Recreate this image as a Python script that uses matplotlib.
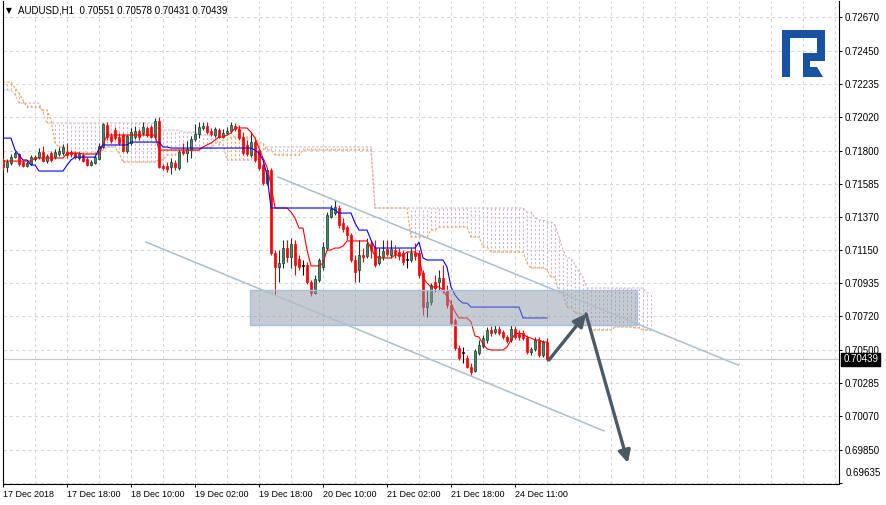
import numpy as np
import matplotlib
matplotlib.use("Agg")
import matplotlib.pyplot as plt
import matplotlib.transforms as mtransforms
from matplotlib.patches import Rectangle, Polygon
from matplotlib.ticker import FixedLocator, MultipleLocator

plt.rcParams['font.family'] = ['Liberation Sans', 'DejaVu Sans']

# AUDUSD H1 candles, bar 0 = 17 Dec 2018 02:00
opens = [
    0.71740, 0.71694, 0.71720, 0.71759, 0.71779, 0.71727, 0.71701, 0.71714, 0.71746, 0.71759,
    0.71792, 0.71733, 0.71785, 0.71759, 0.71779, 0.71785, 0.71792, 0.71792, 0.71785, 0.71753,
    0.71772, 0.71746, 0.71707, 0.71720, 0.71746, 0.71825, 0.71968, 0.71896, 0.71935, 0.71890,
    0.71903, 0.71799, 0.71851, 0.71890, 0.71929, 0.71916, 0.71949, 0.71955, 0.71890, 0.71995,
    0.71701, 0.71701, 0.71694, 0.71720, 0.71688, 0.71799, 0.71785, 0.71805, 0.71877, 0.71909,
    0.71949, 0.71962, 0.71929, 0.71903, 0.71935, 0.71890, 0.71916, 0.71929, 0.71962, 0.71942,
    0.71890, 0.71838, 0.71772, 0.71857, 0.71805, 0.71707, 0.71590, 0.71675, 0.71133, 0.71042,
    0.71068, 0.71166, 0.71107, 0.71192, 0.71094, 0.71049, 0.71055, 0.70944, 0.70873, 0.70957,
    0.71042, 0.71166, 0.71368, 0.71394, 0.71427, 0.71329, 0.71303, 0.71251, 0.71088, 0.71023,
    0.71120, 0.71114, 0.71192, 0.71166, 0.71068, 0.71107, 0.71159, 0.71120, 0.71153, 0.71140,
    0.71133, 0.71088, 0.71088, 0.71133, 0.71133, 0.71003, 0.70781, 0.70814, 0.70944, 0.70944,
    0.70970, 0.70892, 0.70794, 0.70697, 0.70514, 0.70481, 0.70449, 0.70390, 0.70364, 0.70481,
    0.70527, 0.70566, 0.70631, 0.70618, 0.70638, 0.70618, 0.70586, 0.70566, 0.70638, 0.70612,
    0.70612, 0.70579, 0.70488, 0.70508, 0.70566, 0.70468, 0.70551,
]
highs = [
    0.71753, 0.71746, 0.71779, 0.71799, 0.71785, 0.71740, 0.71733, 0.71772, 0.71772, 0.71818,
    0.71831, 0.71779, 0.71799, 0.71812, 0.71825, 0.71844, 0.71851, 0.71805, 0.71799, 0.71792,
    0.71785, 0.71759, 0.71740, 0.71772, 0.71851, 0.71981, 0.71988, 0.71916, 0.71955, 0.71916,
    0.71916, 0.71909, 0.71949, 0.71962, 0.71942, 0.71988, 0.71962, 0.71968, 0.72014, 0.72020,
    0.71714, 0.71727, 0.71753, 0.71740, 0.71805, 0.71851, 0.71864, 0.71896, 0.71975, 0.71988,
    0.71988, 0.71988, 0.71949, 0.71955, 0.71949, 0.71942, 0.71955, 0.71988, 0.71981, 0.71968,
    0.71922, 0.71870, 0.71922, 0.71870, 0.71818, 0.71720, 0.71688, 0.71688, 0.71153, 0.71153,
    0.71218, 0.71218, 0.71231, 0.71218, 0.71120, 0.71088, 0.71075, 0.70957, 0.70990, 0.71101,
    0.71205, 0.71401, 0.71446, 0.71479, 0.71446, 0.71362, 0.71316, 0.71264, 0.71120, 0.71218,
    0.71166, 0.71231, 0.71218, 0.71218, 0.71166, 0.71218, 0.71218, 0.71218, 0.71186, 0.71166,
    0.71153, 0.71140, 0.71166, 0.71199, 0.71153, 0.71023, 0.70892, 0.70938, 0.70990, 0.71023,
    0.71055, 0.70925, 0.70827, 0.70710, 0.70534, 0.70521, 0.70468, 0.70416, 0.70508, 0.70566,
    0.70599, 0.70651, 0.70658, 0.70664, 0.70658, 0.70631, 0.70599, 0.70664, 0.70658, 0.70631,
    0.70631, 0.70599, 0.70521, 0.70586, 0.70586, 0.70566, 0.70578,
]
lows = [
    0.71675, 0.71662, 0.71707, 0.71753, 0.71701, 0.71694, 0.71694, 0.71707, 0.71733, 0.71746,
    0.71727, 0.71720, 0.71727, 0.71746, 0.71766, 0.71772, 0.71753, 0.71759, 0.71746, 0.71740,
    0.71727, 0.71701, 0.71701, 0.71714, 0.71740, 0.71818, 0.71870, 0.71851, 0.71870, 0.71838,
    0.71792, 0.71785, 0.71838, 0.71877, 0.71870, 0.71903, 0.71890, 0.71883, 0.71877, 0.71688,
    0.71675, 0.71662, 0.71649, 0.71675, 0.71675, 0.71772, 0.71727, 0.71753, 0.71864, 0.71883,
    0.71935, 0.71909, 0.71896, 0.71890, 0.71883, 0.71883, 0.71903, 0.71916, 0.71929, 0.71870,
    0.71772, 0.71766, 0.71759, 0.71727, 0.71675, 0.71577, 0.71577, 0.71120, 0.70860, 0.70944,
    0.71036, 0.71075, 0.71036, 0.70990, 0.71023, 0.70990, 0.70931, 0.70853, 0.70866, 0.70944,
    0.71023, 0.71153, 0.71362, 0.71381, 0.71296, 0.71270, 0.71218, 0.71075, 0.70944, 0.70944,
    0.71075, 0.71101, 0.71101, 0.71042, 0.71055, 0.71088, 0.71114, 0.71101, 0.71101, 0.71088,
    0.71055, 0.71036, 0.71075, 0.71088, 0.70970, 0.70729, 0.70716, 0.70794, 0.70879, 0.70892,
    0.70873, 0.70775, 0.70664, 0.70501, 0.70436, 0.70416, 0.70384, 0.70338, 0.70358, 0.70468,
    0.70514, 0.70547, 0.70592, 0.70605, 0.70599, 0.70573, 0.70547, 0.70553, 0.70573, 0.70566,
    0.70566, 0.70475, 0.70468, 0.70495, 0.70455, 0.70455, 0.70431,
]
closes = [
    0.71694, 0.71727, 0.71759, 0.71785, 0.71714, 0.71701, 0.71720, 0.71759, 0.71759, 0.71792,
    0.71733, 0.71766, 0.71740, 0.71792, 0.71799, 0.71825, 0.71772, 0.71779, 0.71759, 0.71779,
    0.71733, 0.71707, 0.71727, 0.71759, 0.71831, 0.71975, 0.71890, 0.71864, 0.71883, 0.71851,
    0.71799, 0.71896, 0.71922, 0.71929, 0.71890, 0.71955, 0.71903, 0.71890, 0.71995, 0.71694,
    0.71688, 0.71681, 0.71727, 0.71694, 0.71792, 0.71785, 0.71812, 0.71877, 0.71909, 0.71955,
    0.71962, 0.71922, 0.71909, 0.71942, 0.71890, 0.71916, 0.71929, 0.71968, 0.71942, 0.71883,
    0.71785, 0.71779, 0.71857, 0.71740, 0.71688, 0.71590, 0.71675, 0.71133, 0.71042, 0.71068,
    0.71166, 0.71107, 0.71192, 0.71055, 0.71042, 0.71049, 0.70944, 0.70873, 0.70964, 0.71088,
    0.71173, 0.71381, 0.71420, 0.71433, 0.71316, 0.71290, 0.71251, 0.71088, 0.71010, 0.71120,
    0.71107, 0.71192, 0.71153, 0.71055, 0.71114, 0.71146, 0.71127, 0.71159, 0.71127, 0.71114,
    0.71075, 0.71088, 0.71133, 0.71114, 0.70990, 0.70781, 0.70814, 0.70925, 0.70905, 0.70970,
    0.70892, 0.70794, 0.70677, 0.70514, 0.70449, 0.70481, 0.70390, 0.70358, 0.70495, 0.70534,
    0.70579, 0.70631, 0.70612, 0.70638, 0.70612, 0.70586, 0.70560, 0.70638, 0.70586, 0.70586,
    0.70579, 0.70488, 0.70508, 0.70566, 0.70468, 0.70553, 0.70439,
]

# Ichimoku lines, stored as (first bar, level) runs
tenkan_start = [0, 8, 16, 20, 25, 26, 39, 50, 51, 52, 53, 54, 56, 57, 58, 62, 63, 64, 65, 66,
                67, 68, 72, 73, 74, 76, 77, 80, 81, 83, 85, 86, 92, 93, 94, 98, 101, 104, 105, 106,
                107, 110, 111, 112, 113, 114, 117, 118, 119, 120, 121, 122, 126, 127, 128, 129, 130, 131, 132, 133,
                135]
tenkan_level = [0.71733, 0.71753, 0.71785, 0.71779, 0.71838, 0.71903, 0.71805, 0.71825, 0.71838, 0.71851,
                0.71870, 0.71890, 0.71903, 0.71916, 0.71949, 0.71922, 0.71883, 0.71818, 0.71753, 0.71694,
                0.71577, 0.71427, 0.71401, 0.71362, 0.71296, 0.71153, 0.71049, 0.71068, 0.71153, 0.71166,
                0.71179, 0.71212, 0.71166, 0.71114, 0.71101, 0.71120, 0.71140, 0.71120, 0.70970, 0.70938,
                0.70912, 0.70892, 0.70847, 0.70807, 0.70749, 0.70710, 0.70684, 0.70592, 0.70586, 0.70540,
                0.70508, 0.70501, 0.70521, 0.70566, 0.70605, 0.70612, 0.70605, 0.70586, 0.70579, 0.70566,
                0.70553]
kijun_start = [0, 3, 4, 5, 7, 9, 16, 17, 18, 24, 25, 32, 40, 42, 63, 64, 65, 66, 67, 83,
               84, 88, 89, 92, 93, 104, 105, 106, 111, 112, 113, 114, 115, 117, 130]
kijun_level = [0.71883, 0.71805, 0.71772, 0.71740, 0.71707, 0.71668, 0.71707, 0.71740, 0.71759, 0.71812,
               0.71838, 0.71857, 0.71825, 0.71818, 0.71805, 0.71785, 0.71740, 0.71642, 0.71427, 0.71414,
               0.71394, 0.71329, 0.71283, 0.71218, 0.71166, 0.71205, 0.71101, 0.71088, 0.71042, 0.70912,
               0.70860, 0.70827, 0.70807, 0.70781, 0.70710]
span_a_start = [0, 3, 4, 5, 6, 10, 12, 13, 14, 16, 25, 26, 29, 30, 39, 41, 44, 50, 53, 55,
                57, 64, 66, 68, 75, 93, 102, 107, 109, 117, 120, 122, 131, 132, 136, 137, 139, 141, 143, 145,
                147, 153, 158, 160]
span_a_level = [0.72248, 0.72209, 0.72177, 0.72131, 0.72085, 0.72066, 0.72001, 0.71851, 0.71825, 0.71785,
                0.71805, 0.71825, 0.71785, 0.71727, 0.71740, 0.71772, 0.71805, 0.71818, 0.71851, 0.71870,
                0.71890, 0.71851, 0.71805, 0.71772, 0.71805, 0.71427, 0.71238, 0.71283, 0.71303, 0.71238,
                0.71173, 0.71140, 0.71068, 0.71036, 0.71023, 0.70977, 0.70873, 0.70781, 0.70742, 0.70729,
                0.70631, 0.70651, 0.70645, 0.70631]
span_b_start = [0, 3, 4, 10, 11, 39, 45, 49, 54, 56, 63, 65, 66, 93, 131, 133, 134, 136, 138, 139,
                140, 141, 143, 144, 145, 146, 161]
span_b_level = [0.72196, 0.72164, 0.72111, 0.72046, 0.71981, 0.71935, 0.71922, 0.71903, 0.71838, 0.71740,
                0.71772, 0.71805, 0.71825, 0.71427, 0.71401, 0.71362, 0.71349, 0.71336, 0.71316, 0.71238,
                0.71153, 0.71101, 0.71055, 0.71010, 0.70977, 0.70905, 0.70873]
cloud_last_bar = 162

# drawn objects: support zone, channel, forecast arrows
zone_bars = [61.75, 158.5]
zone_prices = [0.70664, 0.70892]
chan_upper_bars = [68.75, 183.75]
chan_upper_prices = [0.71629, 0.70403]
chan_lower_bars = [35.75, 150.25]
chan_lower_prices = [0.71205, 0.69973]
arrow_bars = [136.5, 145.75, 156.25]
arrow_prices = [0.70436, 0.70736, 0.69764]

price_ticks = [0.72670, 0.72450, 0.72235, 0.72020, 0.71800, 0.71585, 0.71370, 0.71150,
               0.70935, 0.70720, 0.70500, 0.70285, 0.70070, 0.69850, 0.69635]
time_tick_bars = [0, 16, 32, 48, 64, 80, 96, 112, 128]
time_tick_labels = ['17 Dec 2018', '17 Dec 18:00', '18 Dec 10:00', '19 Dec 02:00', '19 Dec 18:00',
                    '20 Dec 10:00', '21 Dec 02:00', '21 Dec 18:00', '24 Dec 11:00']


def expand(starts, levels, last):
    out = np.empty(last + 1)
    ends = list(starts[1:]) + [last + 1]
    for s, e, v in zip(starts, ends, levels):
        out[s:e] = v
    return out


W, H = 886, 505
fig = plt.figure(figsize=(W / 100, H / 100), dpi=100)
ax = fig.add_axes([2.5 / W, 1 - 484 / H, (839 - 2.5) / W, 483 / H])
ax.set_xlim(-0.125, 209)
ax.set_ylim(0.69627, 0.72777)

# axes / grid
ax.yaxis.tick_right()
ax.set_yticks(price_ticks)
# lowest label sits a bit above the bottom edge like the terminal does
ax.set_yticklabels([f'{p:.5f}' for p in price_ticks[:-1]] + [''])
ax.xaxis.set_major_locator(FixedLocator(time_tick_bars))
ax.set_xticklabels(time_tick_labels, ha='left')
ax.xaxis.set_minor_locator(MultipleLocator(8))
ax.grid(True, which='both', color='#d6d6d6', linestyle=(0, (3, 3)), linewidth=0.75, zorder=0)
ax.set_axisbelow(True)
ax.tick_params(axis='x', which='minor', length=0)
ax.tick_params(axis='x', which='major', length=2.5, width=0.7, pad=1.5, labelsize=6.5)
ax.tick_params(axis='y', length=2.5, width=0.7, pad=1.5, labelsize=7)
ax.spines['top'].set_visible(False)
for side in ('left', 'right', 'bottom'):
    ax.spines[side].set_linewidth(0.8)
    ax.spines[side].set_color('black')

trans = mtransforms.blended_transform_factory(ax.transAxes, ax.transData)
ax.annotate(f'{price_ticks[-1]:.5f}', xy=(1, price_ticks[-1]), xycoords=trans,
            xytext=(4.5, 7), textcoords='offset points', ha='left', va='center',
            fontsize=7, annotation_clip=False)

n = len(closes)
x = np.arange(n)
o, h, l, c = map(np.array, (opens, highs, lows, closes))

# current price line
ax.axhline(c[-1], color='#c8c8c8', lw=0.8, zorder=1)

# cloud
xc = np.arange(cloud_last_bar + 1)
span_a = expand(span_a_start, span_a_level, cloud_last_bar)
span_b = expand(span_b_start, span_b_level, cloud_last_bar)
hatch_col = np.where(span_b >= span_a, '#cfb3cf', '#f2a86a')
ax.vlines(xc, np.minimum(span_a, span_b), np.maximum(span_a, span_b), colors=hatch_col,
          lw=0.75, linestyles=(0, (2, 2)), zorder=1.5)
ax.plot(xc, span_a, color='#f4a460', lw=0.85, ls=(0, (2, 1.5)), zorder=2)
ax.plot(xc, span_b, color='#d2b6d2', lw=0.85, ls=(0, (2, 1.5)), zorder=2)

# candles
up = c > o
doji = c == o
wick_col = np.where(doji, 'black', np.where(up, '#1f3529', '#ff0000'))
ax.vlines(x, l, h, colors=wick_col, lw=0.8, zorder=3)
body_low = np.minimum(o, c)
body_h = np.maximum(np.abs(c - o), 0.00005)
face = np.where(doji, 'black', np.where(up, '#3a8d66', '#ff0000'))
edge = np.where(doji, 'black', np.where(up, '#1d3b2c', '#ff0000'))
ax.bar(x, body_h, width=0.62, bottom=body_low, color=face, edgecolor=edge, linewidth=0.5, zorder=3.5)

# tenkan / kijun
tenkan = expand(tenkan_start, tenkan_level, n - 1)
kijun = expand(kijun_start, kijun_level, n - 1)
ax.plot(x, tenkan, color='#ff0000', lw=0.8, zorder=4)
ax.plot(x, kijun, color='#0000ff', lw=0.8, zorder=4)

# support zone
ax.add_patch(Rectangle((zone_bars[0], zone_prices[0]), zone_bars[1] - zone_bars[0],
                       zone_prices[1] - zone_prices[0], facecolor=(0.55, 0.60, 0.66, 0.5),
                       edgecolor='#a3bfe2', lw=1.0, zorder=5))

# channel
ax.plot(chan_upper_bars, chan_upper_prices, color='#abbfcf', lw=1.1, zorder=6)
ax.plot(chan_lower_bars, chan_lower_prices, color='#abbfcf', lw=1.1, zorder=6)

# forecast arrows
for i in range(len(arrow_bars) - 1):
    ax.annotate('', xy=(arrow_bars[i + 1], arrow_prices[i + 1]),
                xytext=(arrow_bars[i], arrow_prices[i]),
                arrowprops=dict(arrowstyle='-|>', color='#4b5a66', lw=2.4,
                                shrinkA=0, shrinkB=0, mutation_scale=18),
                zorder=7)

# last price tag on the scale
ax.annotate(f'{c[-1]:.5f}', xy=(1, c[-1]), xycoords=trans, xytext=(3, 0),
            textcoords='offset points', ha='left', va='center', color='white', fontsize=7,
            bbox=dict(boxstyle='square,pad=0.2', fc='black', ec='black'),
            annotation_clip=False, zorder=10)

# header
fig.text(6 / W, 1 - 10.5 / H, '\u25bc', fontsize=5.5, family=['DejaVu Sans'], va='center')
fig.text(18 / W, 1 - 10.5 / H,
         f'AUDUSD,H1  {o[-1]:.5f} {h[-1]:.5f} {l[-1]:.5f} {c[-1]:.5f}',
         fontsize=7, va='center')


# logo (pixel coords)
def px(pts):
    return [(a / W, 1 - b / H) for a, b in pts]


logo_col = '#1753a1'
logo_parts = [
    [(782, 30), (790, 30), (790, 77), (782, 77)],
    [(782, 30), (825, 30), (825, 38), (782, 38)],
    [(817, 30), (825, 30), (825, 61), (817, 61)],
    [(803, 53), (825, 53), (825, 61), (803, 61)],
    [(803, 53), (810, 53), (810, 67), (817, 67), (823, 77), (803, 77)],
]
for part in logo_parts:
    fig.patches.append(Polygon(px(part), closed=True, facecolor=logo_col, edgecolor='none',
                               transform=fig.transFigure, figure=fig))

fig.savefig('out.png', dpi=100)
